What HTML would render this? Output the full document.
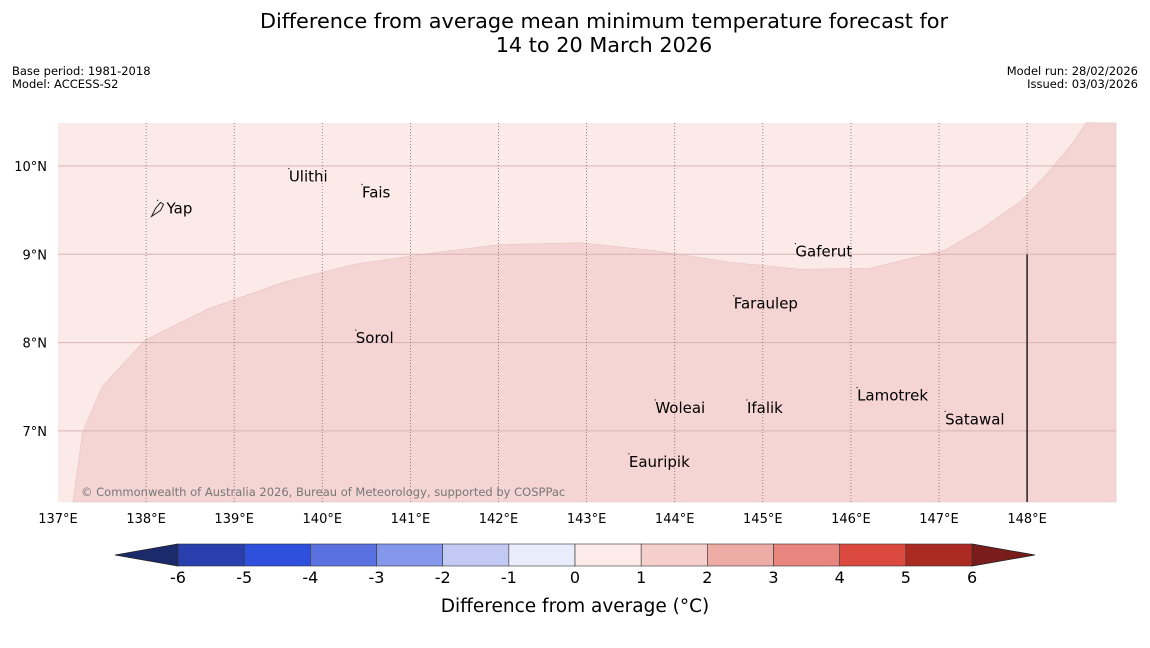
<!DOCTYPE html>
<html><head><meta charset="utf-8"><style>
body{margin:0;background:#fff;width:1150px;height:644px;overflow:hidden;font-family:"DejaVu Sans","Liberation Sans",sans-serif}
svg text{font-family:"DejaVu Sans","Liberation Sans",sans-serif}
</style></head><body>
<svg id="c" width="1150" height="644" xmlns="http://www.w3.org/2000/svg">
<text x="604" y="28" font-size="20.8" text-anchor="middle">Difference from average mean minimum temperature forecast for</text>
<text x="604" y="52" font-size="20.8" text-anchor="middle">14 to 20 March 2026</text>
<text x="12" y="75" font-size="11.5">Base period: 1981-2018</text>
<text x="12" y="88" font-size="11.5">Model: ACCESS-S2</text>
<text x="1138" y="75" font-size="11.5" text-anchor="end">Model run: 28/02/2026</text>
<text x="1138" y="88" font-size="11.5" text-anchor="end">Issued: 03/03/2026</text>
<g id="map"></g>
<g id="cbar"></g>
</svg>
<script>
const lonTicks=[137,138,139,140,141,142,143,144,145,146,147,148];
const latTicks=[7,8,9,10];
const boundaryLon=[137.17,137.28,137.5,137.99,138.7,139.58,140.38,141.22,142.02,142.93,143.78,144.63,145.42,146.22,147.07,147.47,147.94,148.26,148.54,148.67];
const boundaryLat=[6.195,6.99,7.5,8.03,8.38,8.69,8.89,9.01,9.11,9.13,9.04,8.91,8.83,8.84,9.05,9.28,9.61,9.95,10.29,10.49];
const places=["Yap","Ulithi","Fais","Gaferut","Faraulep","Sorol","Lamotrek","Woleai","Ifalik","Satawal","Eauripik"];
const placeLon=[138.13,139.62,140.45,145.37,144.67,140.38,146.07,143.78,144.82,147.07,143.48];
const placeLat=[9.52,9.88,9.7,9.03,8.44,8.05,7.4,7.26,7.26,7.13,6.65];
const cbLevels=[-6,-5,-4,-3,-2,-1,0,1,2,3,4,5,6];
const cbColors=["#2a3fae","#2f4fdd","#5a72e1","#8597ea","#c2c9f3","#e9ecfa","#fcebe8","#f4cfcc","#eeaca7","#e8857e","#dc4a3f","#ab2a22"];
const NS="http://www.w3.org/2000/svg";
const X0=58,X1=1116,Y0=123,Y1=502;
const sx=lon=>58+(lon-137)*88.1;
const sy=lat=>166+(10-lat)*88.3;
const cx=v=>178+(v+6)*66.17;
function mk(tag,attrs,parent){const e=document.createElementNS(NS,tag);for(const k in attrs)e.setAttribute(k,attrs[k]);parent.appendChild(e);return e;}
const map=document.getElementById('map');
mk('rect',{x:X0,y:Y0,width:X1-X0,height:Y1-Y0,fill:'#fbeae8'},map);
let pts=boundaryLon.map((l,i)=>sx(l)+','+sy(boundaryLat[i]));
pts.push(X1+','+Y0,X1+','+Y1);
const poly=mk('polygon',{points:pts.join(' '),fill:'#f5d5d3',stroke:'#e6c3c0','stroke-width':0.6},map);


latTicks.forEach(t=>{
 const l=mk('line',{x1:X0,x2:X1,y1:sy(t),y2:sy(t),stroke:'#d8b4b4','stroke-width':1},map);
 
 const tx=mk('text',{x:47,y:sy(t)+5,'font-size':13,'text-anchor':'end'},map);tx.textContent=t+'°N';
 
 
});
lonTicks.forEach(t=>{
 if(t>137){const l=mk('line',{x1:sx(t),x2:sx(t),y1:Y0,y2:Y1,stroke:'#7a6a6a','stroke-width':0.8,'stroke-dasharray':'1,2'},map);
 }
 const tx=mk('text',{x:sx(t),y:523,'font-size':13,'text-anchor':'middle'},map);tx.textContent=t+'°E';
 
 
});
const vl=mk('line',{x1:sx(148),x2:sx(148),y1:sy(9),y2:Y1,stroke:'#222','stroke-width':1.5},map);

places.forEach((p,i)=>{
 const x=sx(placeLon[i]),y=sy(placeLat[i]);
 mk('circle',{cx:x,cy:y-8,r:0.7,fill:'#333'},map);
 const tx=mk('text',{x:x+(p==='Yap'?9:0),y:y+5,'font-size':15},map);tx.textContent=p;
 
 
});
mk('path',{d:`M${sx(138.13)-6} ${sy(9.52)+8} l4 -8 l5 -6 l3 2 l-3 6 z`,fill:'none',stroke:'#222','stroke-width':1},map);
const cr=mk('text',{x:81,y:496,'font-size':11.5,fill:'#777'},map);cr.textContent='© Commonwealth of Australia 2026, Bureau of Meteorology, supported by COSPPac';


const cb=document.getElementById('cbar');
const ty=544,h=22;
mk('polygon',{points:`115,${ty+h/2} ${cx(-6)},${ty} ${cx(-6)},${ty+h}`,fill:'#1b2a6b',stroke:'#222','stroke-width':0.8},cb);
mk('polygon',{points:`1035,${ty+h/2} ${cx(6)},${ty} ${cx(6)},${ty+h}`,fill:'#7a1d1a',stroke:'#222','stroke-width':0.8},cb);
cbColors.forEach((c,i)=>{
 const r=mk('rect',{x:cx(cbLevels[i]),y:ty,width:cx(cbLevels[i+1])-cx(cbLevels[i]),height:h,fill:c,stroke:'#333','stroke-width':0.6},cb);
 
});
cbLevels.forEach(v=>{
 const tx=mk('text',{x:cx(v),y:583,'font-size':16,'text-anchor':'middle'},cb);tx.textContent=v;
 
 
});
const ct=mk('text',{x:575,y:612,'font-size':18.5,'text-anchor':'middle'},cb);ct.textContent='Difference from average (°C)';


</script>
</body></html>
